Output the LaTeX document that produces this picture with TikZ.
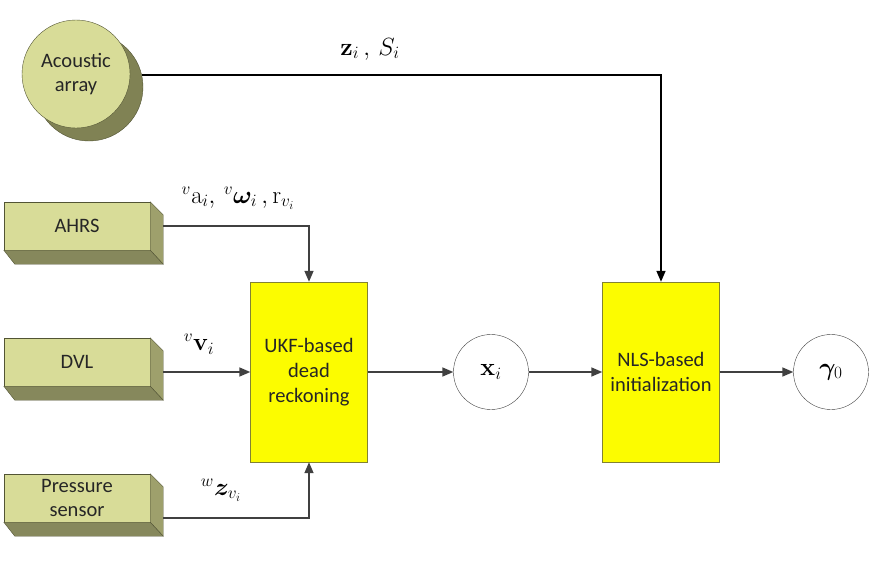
\documentclass[tikz,border=0pt]{standalone}
\usepackage[no-math]{fontspec}
\setmainfont{Carlito}
\usepackage{bm}
\usetikzlibrary{arrows.meta}
\definecolor{olivefront}{RGB}{216,220,152}
\definecolor{oliveside}{RGB}{158,160,108}
\definecolor{olivebottom}{RGB}{134,136,92}
\definecolor{olivedark}{RGB}{82,84,52}
\definecolor{oliveshadow}{RGB}{128,130,84}
\definecolor{yellowfill}{RGB}{252,252,0}
\definecolor{yellowedge}{RGB}{130,130,50}
\definecolor{linegray}{RGB}{64,64,64}

\begin{document}
\begin{tikzpicture}[x=1pt, y=-1pt, >={Triangle[length=11pt,width=9pt]},
  box node/.style={rectangle, draw=olivedark, fill=olivefront, minimum width=146pt, minimum height=48pt, inner sep=0pt, align=center, text=black!85, font=\fontsize{20.5}{24}\selectfont},
  block node/.style={rectangle, draw=yellowedge, fill=yellowfill, minimum width=117pt, minimum height=180pt, inner sep=0pt, align=center, text=black!85, font=\fontsize{20.5}{25}\selectfont},
  state node/.style={circle, draw=linegray, fill=white, minimum size=75pt, inner sep=0pt, font=\fontsize{25}{27}\selectfont},
  math node/.style={inner sep=1pt, font=\fontsize{24}{26}\selectfont},
  link/.style={->, line width=1.6pt, draw=linegray}]

			\useasboundingbox (0,0) rectangle (876,584);

			% sources
			\node[circle, draw=olivedark, fill=oliveshadow, minimum size=108pt] (shadow) at (89,87) {};
			\node[circle, draw=olivedark, fill=olivefront, minimum size=108pt, align=center, text=black!85, font=\fontsize{20.5}{24}\selectfont] (acoustic) at (76,74) {Acoustic\\array};
			\node[box node] (ahrs) at (77,226) {AHRS};
			\node[box node] (dvl) at (77,362) {DVL};
			\node[box node] (pressure) at (77,498) {Pressure\\sensor};

			% 3D faces of the source boxes
			\foreach \n in {ahrs, dvl, pressure} {
				\filldraw[draw=olivedark, fill=oliveside] (\n.north east) -- ++(13,13) -- ([shift={(13pt,-14pt)}]\n.south east) -- (\n.south east) -- cycle;
				\filldraw[draw=olivedark, fill=olivebottom] (\n.south west) -- (\n.south east) -- ([shift={(13pt,-14pt)}]\n.south east) -- ([shift={(11pt,-14pt)}]\n.south west) -- cycle;
			}

			% processing blocks and states
			\node[block node] (ukf) at (309,372) {UKF-based\\dead\\reckoning};
			\node[state node] (xi) at (491,372) {$\mathbf{x}_i$};
			\node[block node] (nls) at (661,372) {NLS-based\\initialization};
			\node[state node] (gamma) at (831,372) {$\bm{\gamma}_0$};

			% connectors
			\draw[link, draw=black] (shadow.13) -| (nls.north);
			\draw[link] ([xshift=13pt]ahrs.east) -| (ukf.north);
			\draw[link] ([xshift=13pt,yshift=-10pt]dvl.east) -- (ukf.west);
			\draw[link] ([xshift=13pt,yshift=-20pt]pressure.east) -| (ukf.south);
			\draw[link] (ukf.east) -- (xi.west);
			\draw[link] (xi.east) -- (nls.west);
			\draw[link] (nls.east) -- (gamma.west);

			% signal labels
			\node[math node] (zs) at (370,49) {$\mathbf{z}_i\,,\,S_i$};
			\node[math node] (imu) at (238,198) {${}^{v}\mathrm{a}_i,\,{}^{v}\bm{\omega}_i\,,\mathrm{r}_{v_i}$};
			\node[math node] (vel) at (199,344) {${}^{v}\mathbf{v}_i$};
			\node[math node] (depth) at (221,490) {${}^{w}\bm{z}_{v_i}$};

\end{tikzpicture}
\end{document}
